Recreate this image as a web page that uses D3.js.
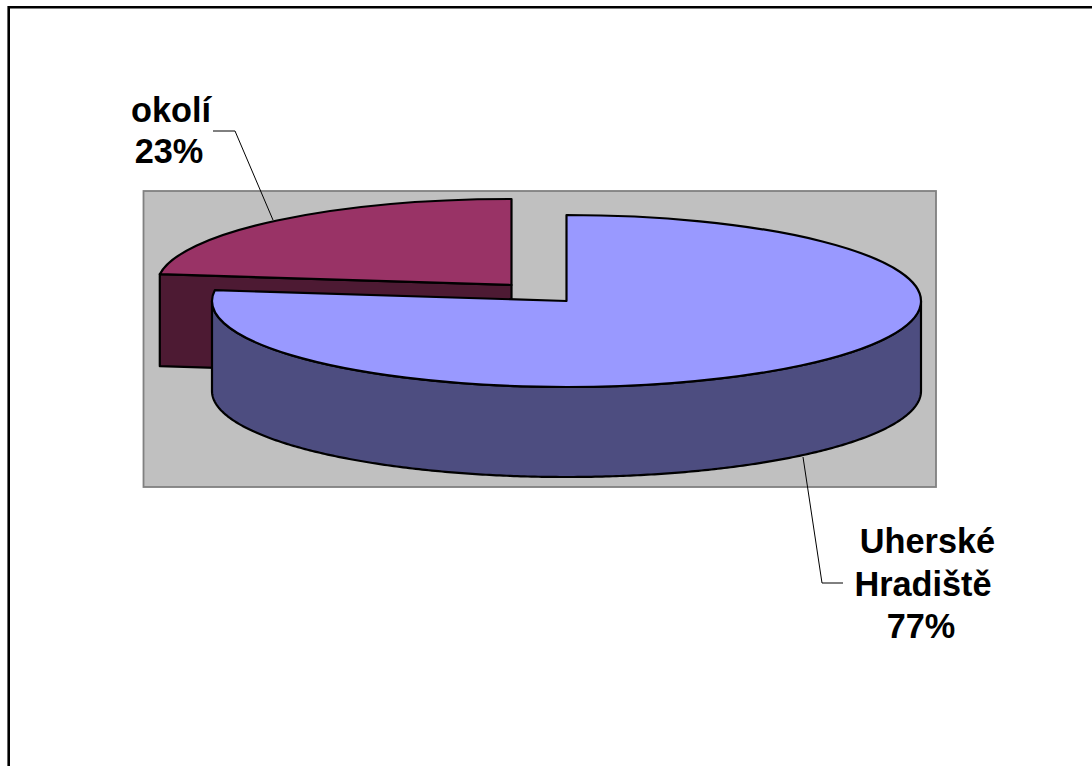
<!DOCTYPE html>
<html><head><meta charset="utf-8">
<script src="https://cdn.jsdelivr.net/npm/d3@7/dist/d3.min.js"></script>
<style>html,body{margin:0;background:#fff}svg{display:block}</style>
</head><body><svg id="c" width="1092" height="766"></svg>
<script>
const categories = ["Uherské Hradiště", "okolí"];
const shares = [77, 23];
const labelLines = [["Uherské", "Hradiště", "77%"], ["okolí", "23%"]];
const topColors = ["#9999ff", "#993366"];
const sideColors = ["#4d4d80", "#4d1a33"];

const svg = d3.select("#c");
svg.append("path").attr("d", "M8.7,766V7.3H1092").attr("fill", "none").attr("stroke", "#000").attr("stroke-width", 2.6);
svg.append("rect").attr("x", 143.5).attr("y", 191).attr("width", 792.5).attr("height", 296)
  .attr("fill", "#c0c0c0").attr("stroke", "#808080").attr("stroke-width", 1.8);

const arcs = d3.pie().sort(null)(shares);
const rx = 354.5, ry = 86;
const centers = [[566.5, 301], [511.5, 285]];
const depths = [90, 92];
const yScale = d3.scaleLinear().domain([0, rx]).range([0, ry]);
const arcGen = d3.arc().innerRadius(0).outerRadius(rx);
const px = (c, a) => [c[0] + rx * Math.sin(a), c[1] + yScale(-rx * Math.cos(a))];

function wall(c, a0, a1, depth) {
  const angles = d3.range(a0, a1, 0.01).concat([a1]);
  const top = angles.map(a => px(c, a));
  const bot = top.map(p => [p[0], p[1] + depth]).reverse();
  return d3.line()(top.concat(bot)) + "Z";
}
function draw(i, walls) {
  const c = centers[i];
  walls.forEach(w => svg.append("path").attr("d", w).attr("fill", sideColors[i])
    .attr("stroke", "#000").attr("stroke-width", 2.2).attr("stroke-linejoin", "round"));
  svg.append("path").attr("d", arcGen(arcs[i]))
    .attr("transform", `translate(${c[0]},${c[1]}) scale(1,${ry / rx})`)
    .attr("fill", topColors[i]).attr("stroke", "#000").attr("stroke-width", 2.2)
    .attr("vector-effect", "non-scaling-stroke").attr("stroke-linejoin", "round");
}
// okolí sits behind: its straight wall runs along the edge from centre to the left rim
const ok = centers[1], okEdge = px(ok, arcs[1].startAngle);
draw(1, [d3.line()([ok, okEdge, [okEdge[0], okEdge[1] + depths[1]], [ok[0], ok[1] + depths[1]]]) + "Z"]);
// Uherské Hradiště: visible outer wall from the right extreme round to the left extreme
draw(0, [wall(centers[0], Math.PI / 2, Math.PI * 1.5, depths[0])]);

const leaders = [[[803, 457], [822, 583], [843, 583]], [[273, 220], [235, 131], [213, 131]]];
leaders.forEach(l => svg.append("path").attr("d", d3.line()(l)).attr("fill", "none").attr("stroke", "#000").attr("stroke-width", 1));

const labelPos = [[[927.5, 553], [923, 596], [921, 638]], [[171, 122], [169, 163]]];
labelLines.forEach((lines, i) => lines.forEach((t, j) => svg.append("text")
  .attr("x", labelPos[i][j][0]).attr("y", labelPos[i][j][1]).attr("text-anchor", "middle")
  .attr("font-family", "'Liberation Sans', Arial, sans-serif").attr("font-weight", "bold")
  .attr("font-size", 34.3).attr("fill", "#000").text(t)));
</script></body></html>
